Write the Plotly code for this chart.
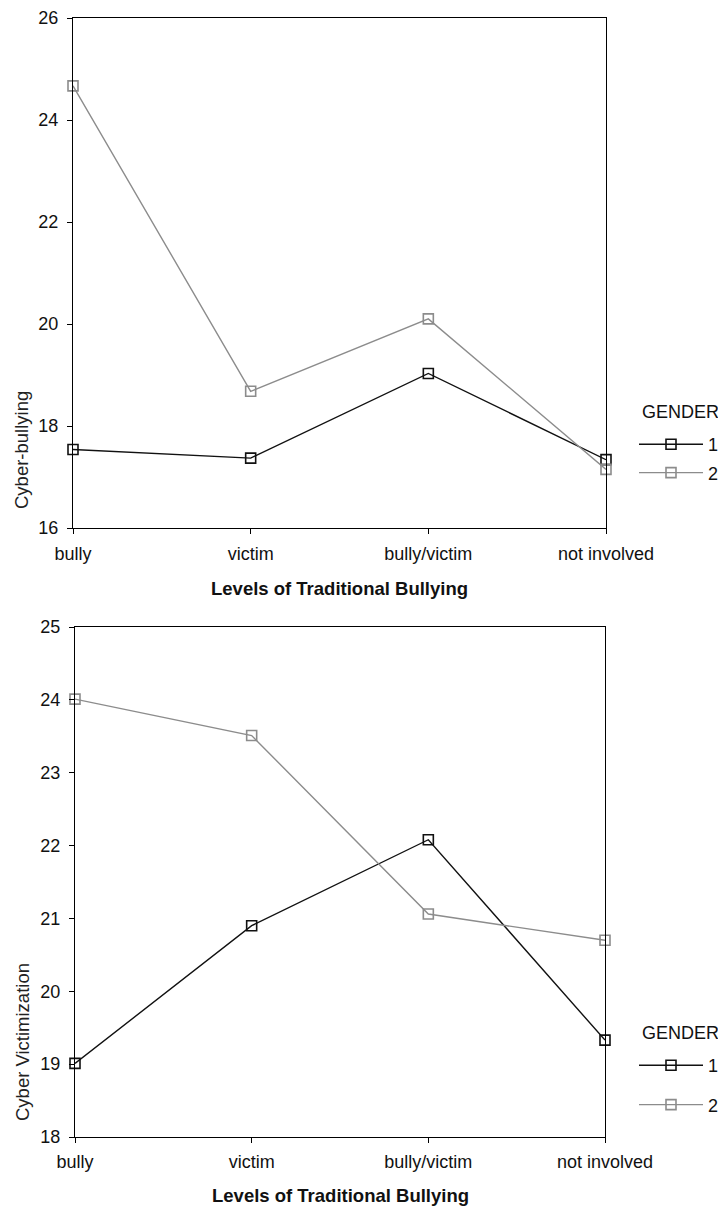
import plotly.graph_objects as go

categories = ["bully", "victim", "bully/victim", "not involved"]

# Top chart: Cyber-bullying
cb_gender1 = [17.54, 17.37, 19.03, 17.34]
cb_gender2 = [24.67, 18.68, 20.10, 17.15]

# Bottom chart: Cyber Victimization
cv_gender1 = [19.01, 20.90, 22.08, 19.33]
cv_gender2 = [24.01, 23.51, 21.06, 20.70]

gender_labels = ["1", "2"]
x_title = "Levels of Traditional Bullying"
y_title_top = "Cyber-bullying"
y_title_bottom = "Cyber Victimization"
legend_title = "GENDER"

# the page body has an 8px margin: build the figure in screen pixels minus that offset
OFF = 8
W, H = 718, 1199
FONT = "Liberation Sans, Arial, sans-serif"
C1 = "#111111"
C2 = "#8c8c8c"

def px_x(v):
    return (v - OFF) / W

def px_y(v):
    return 1 - (v - OFF) / H

fig = go.Figure()

series = [
    (cb_gender1, gender_labels[0], C1, "x", "y", "legend"),
    (cb_gender2, gender_labels[1], C2, "x", "y", "legend"),
    (cv_gender1, gender_labels[0], C1, "x2", "y2", "legend2"),
    (cv_gender2, gender_labels[1], C2, "x2", "y2", "legend2"),
]
for i, (vals, name, col, xa, ya, lg) in enumerate(series):
    fig.add_trace(go.Scatter(
        x=categories, y=vals, name=name, mode="lines+markers",
        line=dict(color=col, width=1.4),
        marker=dict(symbol="square-open", size=10, color=col, line=dict(width=1.6, color=col)),
        xaxis=xa, yaxis=ya, legend=lg, legendgroup=f"g{i}",
        cliponaxis=False,
    ))

axis_common = dict(
    showline=True, linecolor="black", linewidth=1, mirror=True,
    ticks="outside", ticklen=5, tickcolor="black", tickwidth=1,
    showgrid=False, zeroline=False, automargin=False,
    ticklabeloverflow="allow",
    tickfont=dict(family=FONT, size=18, color="#111111"),
)

legend_common = dict(
    xanchor="left", yanchor="top",
    font=dict(family=FONT, size=18, color="#111111"),
    itemwidth=64, bgcolor="rgba(0,0,0,0)",
)

def ann(text, x, y, size=18, angle=0, xanchor="center", color="#111111"):
    return dict(text=text, xref="paper", yref="paper", x=px_x(x), y=px_y(y),
                xanchor=xanchor, yanchor="middle", textangle=angle, showarrow=False,
                font=dict(family=FONT, size=size, color=color))

fig.update_layout(
    width=W, height=H,
    margin=dict(l=0, r=0, t=0, b=0, autoexpand=False),
    paper_bgcolor="white", plot_bgcolor="white",
    showlegend=True,
    xaxis=dict(domain=[px_x(73), px_x(606)], anchor="y", type="category",
               range=[0, 3], ticklabelstandoff=4, **axis_common),
    yaxis=dict(domain=[px_y(528), px_y(18)], anchor="x", range=[16, 26],
               tickvals=[16, 18, 20, 22, 24, 26], ticklabelstandoff=5, **axis_common),
    xaxis2=dict(domain=[px_x(75), px_x(605)], anchor="y2", type="category",
                range=[0, 3], ticklabelstandoff=3, **axis_common),
    yaxis2=dict(domain=[px_y(1137), px_y(627)], anchor="x2", range=[18, 25],
                tickvals=[18, 19, 20, 21, 22, 23, 24, 25], ticklabelstandoff=5, **axis_common),
    legend=dict(x=px_x(634), y=px_y(426), tracegroupgap=2, **legend_common),
    legend2=dict(x=px_x(634), y=px_y(1047), tracegroupgap=13, **legend_common),
    annotations=[
        ann(legend_title, 640, 412, xanchor="left"),
        ann(legend_title, 640, 1033, xanchor="left"),
        ann(f"<b>{x_title}</b>", 339, 588, size=18.5),
        ann(f"<b>{x_title}</b>", 340, 1195, size=18.5),
        ann(y_title_top, 22, 450, size=18.5, angle=-90, color="#222222"),
        ann(y_title_bottom, 22, 1042, size=18.5, angle=-90, color="#222222"),
    ],
)

fig.write_html("out.html")
